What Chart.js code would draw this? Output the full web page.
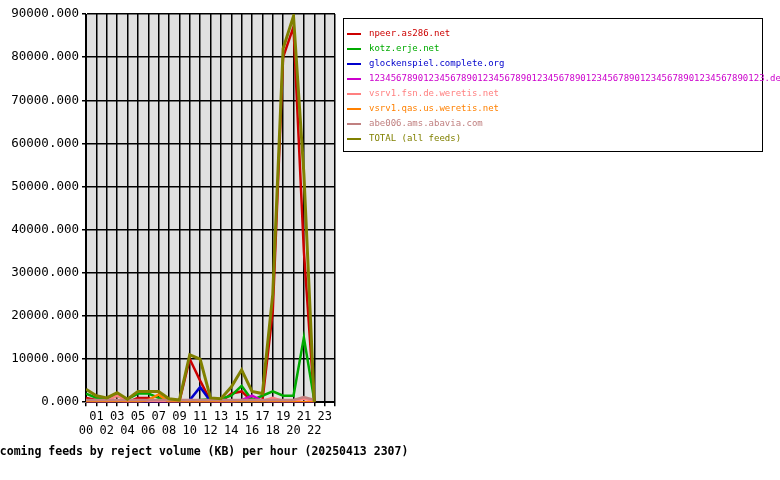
<!DOCTYPE html>
<html><head><meta charset="utf-8">
<script src="https://cdn.jsdelivr.net/npm/chart.js@4"></script>
<style>
body{margin:0;background:#fff;width:780px;height:480px;overflow:hidden;position:relative;font-family:"DejaVu Sans Mono",monospace}
#wrap{position:absolute;left:0;top:0;width:345px;height:445px}
#legend{position:absolute;left:343px;top:18px;width:420px;height:134px;border:1px solid #000;box-sizing:border-box;font-size:9px;padding:7px 0 0 3px}
#legend div{height:15px;line-height:15px;white-space:nowrap}
#legend span.m{display:inline-block;width:14px;height:2px;vertical-align:middle;margin-right:8px;position:relative}
#title{position:absolute;left:-14px;top:444px;font-size:11.5px;font-weight:bold;white-space:nowrap}
</style></head><body>
<div id="wrap"><canvas id="c" width="345" height="445"></canvas></div>
<div id="legend"></div>
<div id="title">Incoming feeds by reject volume (KB) per hour (20250413 2307)</div>
<script>
const hours = ['00','01','02','03','04','05','06','07','08','09','10','11','12','13','14','15','16','17','18','19','20','21','22'];
const feedNames = ['npeer.as286.net','kotz.erje.net','glockenspiel.complete.org','1234567890123456789012345678901234567890123456789012345678901234567890123.de','vsrv1.fsn.de.weretis.net','vsrv1.qas.us.weretis.net','abe006.ams.abavia.com','TOTAL (all feeds)'];
const feedColors = ['#cc0000','#00aa00','#0000cc','#cc00cc','#ff8080','#ff8000','#c08080','#808000'];
const npeer = [1000,500,300,500,0,1000,1000,0,300,200,10000,5000,300,0,2000,2500,300,300,21000,80000,87000,35000,0];
const kotz = [2000,1000,700,1500,700,2000,2000,1000,500,300,300,500,700,800,1500,3800,500,1500,2500,1500,1500,15000,500];
const glock = [0,0,0,0,0,0,0,0,0,0,500,3500,200,0,0,0,0,0,0,0,0,0,0];
const longde = [0,0,0,300,0,0,0,0,0,0,0,0,0,0,0,500,1500,300,0,0,0,0,0];
const fsn = [300,300,300,1500,300,300,300,300,300,300,300,300,300,300,300,300,300,300,1000,300,300,800,300];
const qas = [0,0,0,0,0,0,500,1800,0,0,0,0,0,0,0,0,0,0,0,0,0,0,0];
const abe = [500,500,500,500,500,500,500,500,500,500,500,500,500,500,500,500,500,500,500,500,500,1200,500];
const total = [3000,1500,1000,2200,700,2500,2500,2500,800,500,11000,10000,1000,800,3500,7500,2500,2000,25000,82000,89500,53000,0];
const series = [npeer,kotz,glock,longde,fsn,qas,abe,total];

const datasets = series.map((s,i)=>({
  label: feedNames[i],
  data: s.map((v,h)=>({x:h,y:v})),
  borderColor: feedColors[i],
  borderWidth: i===7 ? 3 : 2.5,
  pointRadius: 0,
  tension: 0,
  order: 7-i
}));

const lg = document.getElementById('legend');
feedNames.forEach((n,i)=>{
  lg.innerHTML += '<div style="color:'+feedColors[i]+'"><span class="m" style="background:'+feedColors[i]+'"></span>'+n+'</div>';
});

const bg = {id:'bg',beforeDraw(ch){const a=ch.chartArea,c=ch.ctx;c.save();c.fillStyle='#e0e0e0';c.fillRect(a.left,a.top,a.right-a.left,a.bottom-a.top);c.restore();}};

new Chart(document.getElementById('c'),{
  type:'line',
  data:{datasets},
  plugins:[bg],
  options:{
    responsive:false,animation:false,
    layout:{padding:{top:14,right:10,bottom:4}},
    plugins:{legend:{display:false},tooltip:{enabled:false}},
    scales:{
      x:{type:'linear',min:0,max:24,
        grid:{color:'#000',lineWidth:1.5,drawTicks:true,tickLength:4},
        border:{color:'#000'},
        ticks:{stepSize:1,autoSkip:false,maxRotation:0,color:'#000',font:{family:'DejaVu Sans Mono',size:12},
          callback:v=>v>23?'':(v%2? [String(v).padStart(2,'0'),''] : ['',String(v).padStart(2,'0')])}},
      y:{min:0,max:90000,
        afterFit:s=>{s.width=86;},
        grid:{color:'#000',lineWidth:1.5,tickLength:4},
        border:{color:'#000'},
        ticks:{stepSize:10000,color:'#000',font:{family:'DejaVu Sans Mono',size:12.5},callback:v=>v.toFixed(3)}}
    }
  }
});
</script></body></html>
